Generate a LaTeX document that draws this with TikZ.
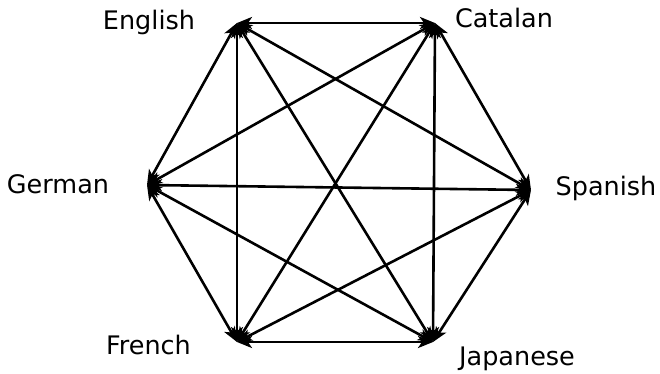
\documentclass[tikz,border=0pt]{standalone}
\usepackage{fontspec}
\setmainfont{DejaVu Sans}
\usetikzlibrary{arrows.meta}
\begin{document}
\begin{tikzpicture}[x=1pt,y=-1pt,
  lang/.style={font=\fontsize{25.5}{30}\selectfont, anchor=base, inner sep=0pt},
  link/.style={line width=2.6pt, {Stealth[length=15pt,width=12pt,inset=4pt]}-{Stealth[length=15pt,width=12pt,inset=4pt]}}]
\useasboundingbox (0,0) rectangle (660,373);
\coordinate (en) at (237,23);
\coordinate (ca) at (435,23);
\coordinate (sp) at (531,190);
\coordinate (ja) at (433,342);
\coordinate (fr) at (237,342);
\coordinate (de) at (147,185);
\node[lang] (len) at (149,29) {English};
\node[lang] (lca) at (504,27) {Catalan};
\node[lang] (lsp) at (606,195) {Spanish};
\node[lang] (lja) at (517,365) {Japanese};
\node[lang] (lfr) at (148.5,354) {French};
\node[lang] (lde) at (58,193) {German};
\draw[link] (en) -- (ca);
\draw[link] (en) -- (sp);
\draw[link] (en) -- (ja);
\draw[link] (en) -- (fr);
\draw[link] (en) -- (de);
\draw[link] (ca) -- (sp);
\draw[link] (ca) -- (ja);
\draw[link] (ca) -- (fr);
\draw[link] (ca) -- (de);
\draw[link] (sp) -- (ja);
\draw[link] (sp) -- (fr);
\draw[link] (sp) -- (de);
\draw[link] (ja) -- (fr);
\draw[link] (ja) -- (de);
\draw[link] (fr) -- (de);
\end{tikzpicture}
\end{document}
